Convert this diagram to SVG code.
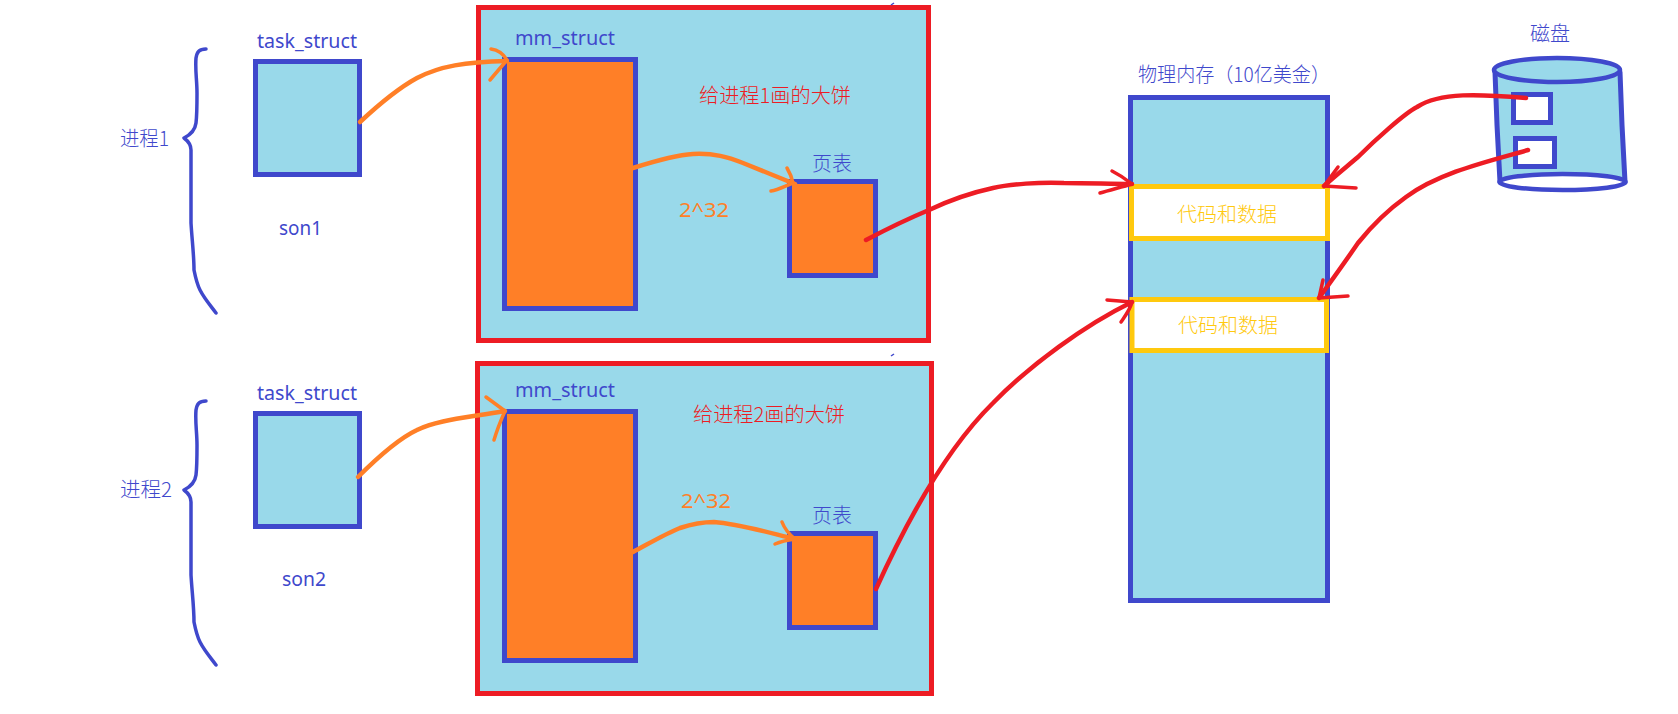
<svg xmlns="http://www.w3.org/2000/svg" width="1678" height="714" viewBox="0 0 1678 714">
<style>
text{font-family:"Noto Sans","Noto Sans CJK SC",sans-serif;font-size:19px}
.t{fill:#3F48CC}.r{fill:#ED1C24}.o{fill:#FF7F27}.y{fill:#FFC90E}
.zh{font-family:"Noto Sans CJK SC",sans-serif;font-size:20px;font-weight:300}
.box{fill:#99D9EA;stroke:#3F48CC;stroke-width:5}
.frame{fill:#99D9EA;stroke:#ED1C24;stroke-width:5}
.fill{fill:#FF7F27;stroke:#3F48CC;stroke-width:5}
.slot{fill:#fff;stroke:#3F48CC;stroke-width:5}
.data{fill:#fff;stroke:#FFC90E;stroke-width:5}
.brace{fill:none;stroke:#3F48CC;stroke-width:3.5;stroke-linecap:round;stroke-linejoin:round}
.ao{fill:none;stroke:#FF7F27;stroke-width:4.500;stroke-linecap:round;stroke-linejoin:round}
.ar{fill:none;stroke:#ED1C24;stroke-width:4.500;stroke-linecap:round;stroke-linejoin:round}
.head{stroke-width:3.500}
</style>
<rect width="1678" height="714" fill="#fff"/>
<g id="process1">
<path class="brace" d="M206 49C199 49 197 52 196 58C195 70 197 80 197 93C197 105 197 115 196 123C195 131 190 135 184 138C188 141 191 145 191 150L191 223C192 240 194 255 194 270C196 280 198 286 200 290C204 298 210 305 216 313"/>
<text class="t zh" x="120" y="146" textLength="49" lengthAdjust="spacingAndGlyphs">进程1</text>
</g>
<g id="process2">
<path class="brace" d="M206 401C199 401 197 404 196 410C195 422 197 432 197 445C197 457 197 467 196 475C195 483 190 487 184 490C188 493 191 497 191 502L191 575C192 592 194 607 194 622C196 632 198 638 200 642C204 650 210 657 216 665"/>
<text class="t zh" x="120" y="497" textLength="52" lengthAdjust="spacingAndGlyphs">进程2</text>
</g>
<g id="task1">
<text class="t" x="257" y="48" textLength="100" lengthAdjust="spacingAndGlyphs">task_struct</text>
<rect class="box" x="255.500" y="61.500" width="104" height="113"/>
<text class="t" x="279" y="235" textLength="43" lengthAdjust="spacingAndGlyphs">son1</text>
</g>
<g id="task2">
<text class="t" x="257" y="400" textLength="100" lengthAdjust="spacingAndGlyphs">task_struct</text>
<rect class="box" x="255.500" y="413.500" width="104" height="113"/>
<text class="t" x="282" y="586" textLength="44" lengthAdjust="spacingAndGlyphs">son2</text>
</g>
<g id="space1">
<rect class="frame" x="478.500" y="7.500" width="450" height="333"/>
<text class="t" x="515" y="45" textLength="100" lengthAdjust="spacingAndGlyphs">mm_struct</text>
<rect class="fill" x="504.500" y="59.500" width="131" height="249"/>
<text class="r zh" x="699" y="103" textLength="152" lengthAdjust="spacingAndGlyphs">给进程1画的大饼</text>
<text class="o" x="679" y="217" textLength="50" lengthAdjust="spacingAndGlyphs">2^32</text>
<text class="t zh" x="812" y="171" textLength="40" lengthAdjust="spacingAndGlyphs">页表</text>
<rect class="fill" x="789.500" y="181.500" width="86" height="94"/>
</g>
<g id="space2">
<rect class="frame" x="477.500" y="363.500" width="454" height="330"/>
<text class="t" x="515" y="397" textLength="100" lengthAdjust="spacingAndGlyphs">mm_struct</text>
<rect class="fill" x="504.500" y="411.500" width="131" height="249"/>
<text class="r zh" x="693" y="422" textLength="152" lengthAdjust="spacingAndGlyphs">给进程2画的大饼</text>
<text class="o" x="681" y="508" textLength="50" lengthAdjust="spacingAndGlyphs">2^32</text>
<text class="t zh" x="812" y="523" textLength="40" lengthAdjust="spacingAndGlyphs">页表</text>
<rect class="fill" x="789.500" y="533.500" width="86" height="94"/>
</g>
<g id="memory">
<text class="t zh" x="1138" y="82" textLength="192" lengthAdjust="spacingAndGlyphs">物理内存（10亿美金）</text>
<rect class="box" x="1130.500" y="97.500" width="197" height="503"/>
<rect class="data" x="1131.500" y="186.500" width="196" height="52"/>
<text class="y zh" x="1177" y="222" textLength="100" lengthAdjust="spacingAndGlyphs">代码和数据</text>
<rect class="data" x="1132" y="299.500" width="194.500" height="51"/>
<text class="y zh" x="1178" y="333" textLength="100" lengthAdjust="spacingAndGlyphs">代码和数据</text>
</g>
<g id="disk">
<text class="t zh" x="1530" y="41" textLength="40" lengthAdjust="spacingAndGlyphs">磁盘</text>
<path d="M1495 72L1497 125L1500 182L1625 182L1622 125L1620 72Z" fill="#99D9EA" stroke="#3F48CC" stroke-width="5" stroke-linejoin="round"/>
<ellipse cx="1557" cy="70" rx="63" ry="12" fill="#99D9EA" stroke="#3F48CC" stroke-width="4.500"/>
<ellipse cx="1562.500" cy="182" rx="63" ry="8" fill="#fff" stroke="#3F48CC" stroke-width="4.500"/>
<rect class="slot" x="1513.500" y="94.500" width="37" height="28"/>
<rect class="slot" x="1515.500" y="138.500" width="39" height="28"/>
</g>
<g id="marks" fill="none" stroke="#3F48CC" stroke-width="1.500">
<path d="M891 5L894 3"/>
<path d="M891 356L894 354"/>
</g>
<g id="connectors">
<path class="ao" d="M360 122C375 108 395 90 417 78C440 66 465 62 507 61"/>
<path class="ao head" d="M491 49C499 50 504 55 507 60L490 80"/>
<path class="ao" d="M358 477C380 455 400 438 417 430C437 420 465 418 505 411"/>
<path class="ao head" d="M486 397L505 411C501 420 497 430 494 440"/>
<path class="ao" d="M633 168C655 161 675 155 693 154C714 153 728 157 743 163C760 170 778 177 795 184"/>
<path class="ao head" d="M787 168C790 173 792 178 793 183C785 186 778 190 771 191"/>
<path class="ao" d="M633 552C650 543 665 534 680 528C695 523 705 522 714 522C740 524 770 533 795 539"/>
<path class="ao head" d="M782 522C785 530 790 535 795 539C788 540 782 541 775 544"/>
<path class="ar" d="M866 240C885 230 905 220 929 210C950 200 970 193 993 188C1010 184 1040 182 1064 183C1090 183 1110 184 1132 184"/>
<path class="ar head" d="M1112 171C1120 175 1127 180 1132 184C1122 187 1110 190 1100 193"/>
<path class="ar" d="M876 589C905 525 945 450 993 403C1030 365 1085 325 1132 302"/>
<path class="ar head" d="M1107 300L1132 302C1130 310 1125 316 1121 322"/>
<path class="ar" d="M1526 98C1480 94 1440 92 1417 107C1405 113 1375 140 1358 157C1345 168 1335 176 1324 186"/>
<path class="ar head" d="M1338 167L1324 186L1356 188"/>
<path class="ar" d="M1528 150C1490 161 1440 172 1406 197C1385 212 1370 228 1358 243C1345 262 1332 280 1319 298"/>
<path class="ar head" d="M1323 280L1319 298L1348 296"/>
</g>
</svg>
